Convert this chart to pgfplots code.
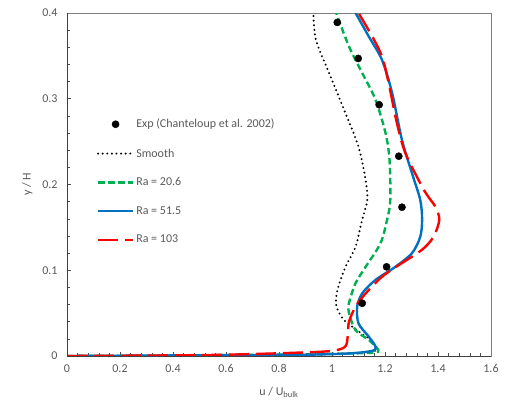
\documentclass[border=0pt]{standalone}
\usepackage{fontspec}
\setmainfont{Carlito}
\usepackage{pgfplots}
\pgfplotsset{compat=1.18}
\definecolor{txtgray}{HTML}{595959}
\definecolor{axgray}{HTML}{7F7F7F}
\definecolor{xlgreen}{HTML}{00B050}
\definecolor{xlblue}{HTML}{0070C0}
\definecolor{xlred}{HTML}{FF0000}
\tikzset{
  ssmooth/.style={black, line width=2.2pt, dash pattern=on 0pt off 4.6bp, line cap=round},
  sgreen/.style={xlgreen, line width=2.4pt, dash pattern=on 6.5bp off 3.5bp},
  sblue/.style={xlblue, line width=2.4pt},
  sred/.style={xlred, line width=2.4pt, dash pattern=on 20bp off 7bp},
}
\begin{document}
\begin{tikzpicture}
\path[use as bounding box] (-67bp,-47bp) rectangle (440bp,356bp);
\begin{axis}[
    scale only axis,
    width=424bp, height=343bp,
    xmin=0, xmax=1.6, ymin=0, ymax=0.4,
    xtick={0,0.2,...,1.6}, ytick={0,0.1,...,0.4},
    minor x tick num=4, minor y tick num=4,
    tick align=inside,
    major tick length=4bp, minor tick length=3bp,
    xtick pos=bottom, ytick pos=left,
    tick style={black!70, line width=0.6pt},
    axis line style={axgray, line width=0.8pt},
    font=\fontsize{12bp}{14bp}\selectfont,
    tick label style={txtgray},
    /pgf/number format/assume math mode=true,
    yticklabel style={xshift=-6bp},
    xticklabel style={yshift=-5bp},
    xlabel={u / U\textsubscript{bulk}},
    ylabel={y / H},
    label style={txtgray},
    xlabel style={yshift=-8bp},
    ylabel style={yshift=3bp},
    legend cell align=left,
    legend style={draw=none, fill=none, at={(0.07,0.697)}, anchor=north west,
        text=txtgray, row sep=15.3bp, inner sep=0pt,
        font=\fontsize{12bp}{14bp}\selectfont},
]
\addplot[only marks, mark=*, mark size=3.6bp, black,
    legend image code/.code={\fill[black] (17.5bp,0bp) circle[radius=3.6bp];}]
coordinates {
(1.020,0.389) (1.099,0.347) (1.178,0.293) (1.252,0.233)
(1.264,0.1735) (1.206,0.104) (1.114,0.0615)
};
\addlegendentry{Exp (Chanteloup et al. 2002)}

\addplot[ssmooth, smooth, tension=0.5,
    legend image code/.code={\draw[ssmooth] (0bp,0bp) -- (35bp,0bp);}]
coordinates {
(0,0) (0.3,0.0005) (0.6,0.001) (0.9,0.002) (1.05,0.003) (1.15,0.005)
(1.17,0.009) (1.145,0.0187) (1.095,0.030) (1.045,0.042) (1.02,0.055)
(1.015,0.065) (1.024,0.081) (1.051,0.104) (1.089,0.1275) (1.114,0.159)
(1.133,0.182) (1.127,0.205) (1.10,0.244) (1.051,0.283) (0.989,0.33)
(0.939,0.369) (0.930,0.4)
};
\addlegendentry{Smooth}

\addplot[sgreen, smooth, tension=0.5,
    legend image code/.code={\draw[sgreen] (0bp,0bp) -- (35bp,0bp);}]
coordinates {
(0,0) (0.3,0.0005) (0.6,0.001) (0.9,0.002) (1.08,0.003) (1.16,0.004)
(1.175,0.007) (1.139,0.0187) (1.089,0.030) (1.064,0.05) (1.064,0.0615)
(1.089,0.085) (1.127,0.104) (1.183,0.1315) (1.208,0.159) (1.22,0.182)
(1.217,0.229) (1.202,0.26) (1.164,0.299) (1.114,0.33) (1.064,0.361)
(1.016,0.4)
};
\addlegendentry{Ra = 20.6}

\addplot[sblue, smooth, tension=0.5,
    legend image code/.code={\draw[sblue] (0bp,0bp) -- (35bp,0bp);}]
coordinates {
(0,0) (0.3,0.0005) (0.6,0.001) (0.9,0.0015) (1.064,0.003) (1.152,0.006)
(1.164,0.011) (1.139,0.0225) (1.10,0.038) (1.095,0.0575) (1.114,0.073)
(1.164,0.0887) (1.239,0.104) (1.302,0.12) (1.333,0.139) (1.34,0.159)
(1.333,0.182) (1.302,0.213) (1.264,0.252) (1.227,0.3065) (1.189,0.345)
(1.139,0.3725) (1.089,0.4)
};
\addlegendentry{Ra = 51.5}

\addplot[sred, smooth, tension=0.5,
    legend image code/.code={\draw[sred] (0bp,0bp) -- (35bp,0bp);}]
coordinates {
(0,0) (0.3,0.0005) (0.6,0.0015) (0.88,0.004) (1.0,0.006) (1.05,0.011)
(1.06,0.025) (1.064,0.040) (1.089,0.0575) (1.127,0.073) (1.189,0.0925)
(1.252,0.106) (1.34,0.124) (1.383,0.139) (1.405,0.159) (1.39,0.174)
(1.365,0.185) (1.34,0.1975) (1.277,0.2365) (1.245,0.2715) (1.214,0.318)
(1.189,0.349) (1.152,0.3725) (1.10,0.4)
};
\addlegendentry{Ra = 103}
\draw[black!75, line width=0.8pt] (rel axis cs:0,1) -- (rel axis cs:0,0) -- (rel axis cs:1,0);
\end{axis}
\end{tikzpicture}
\end{document}
